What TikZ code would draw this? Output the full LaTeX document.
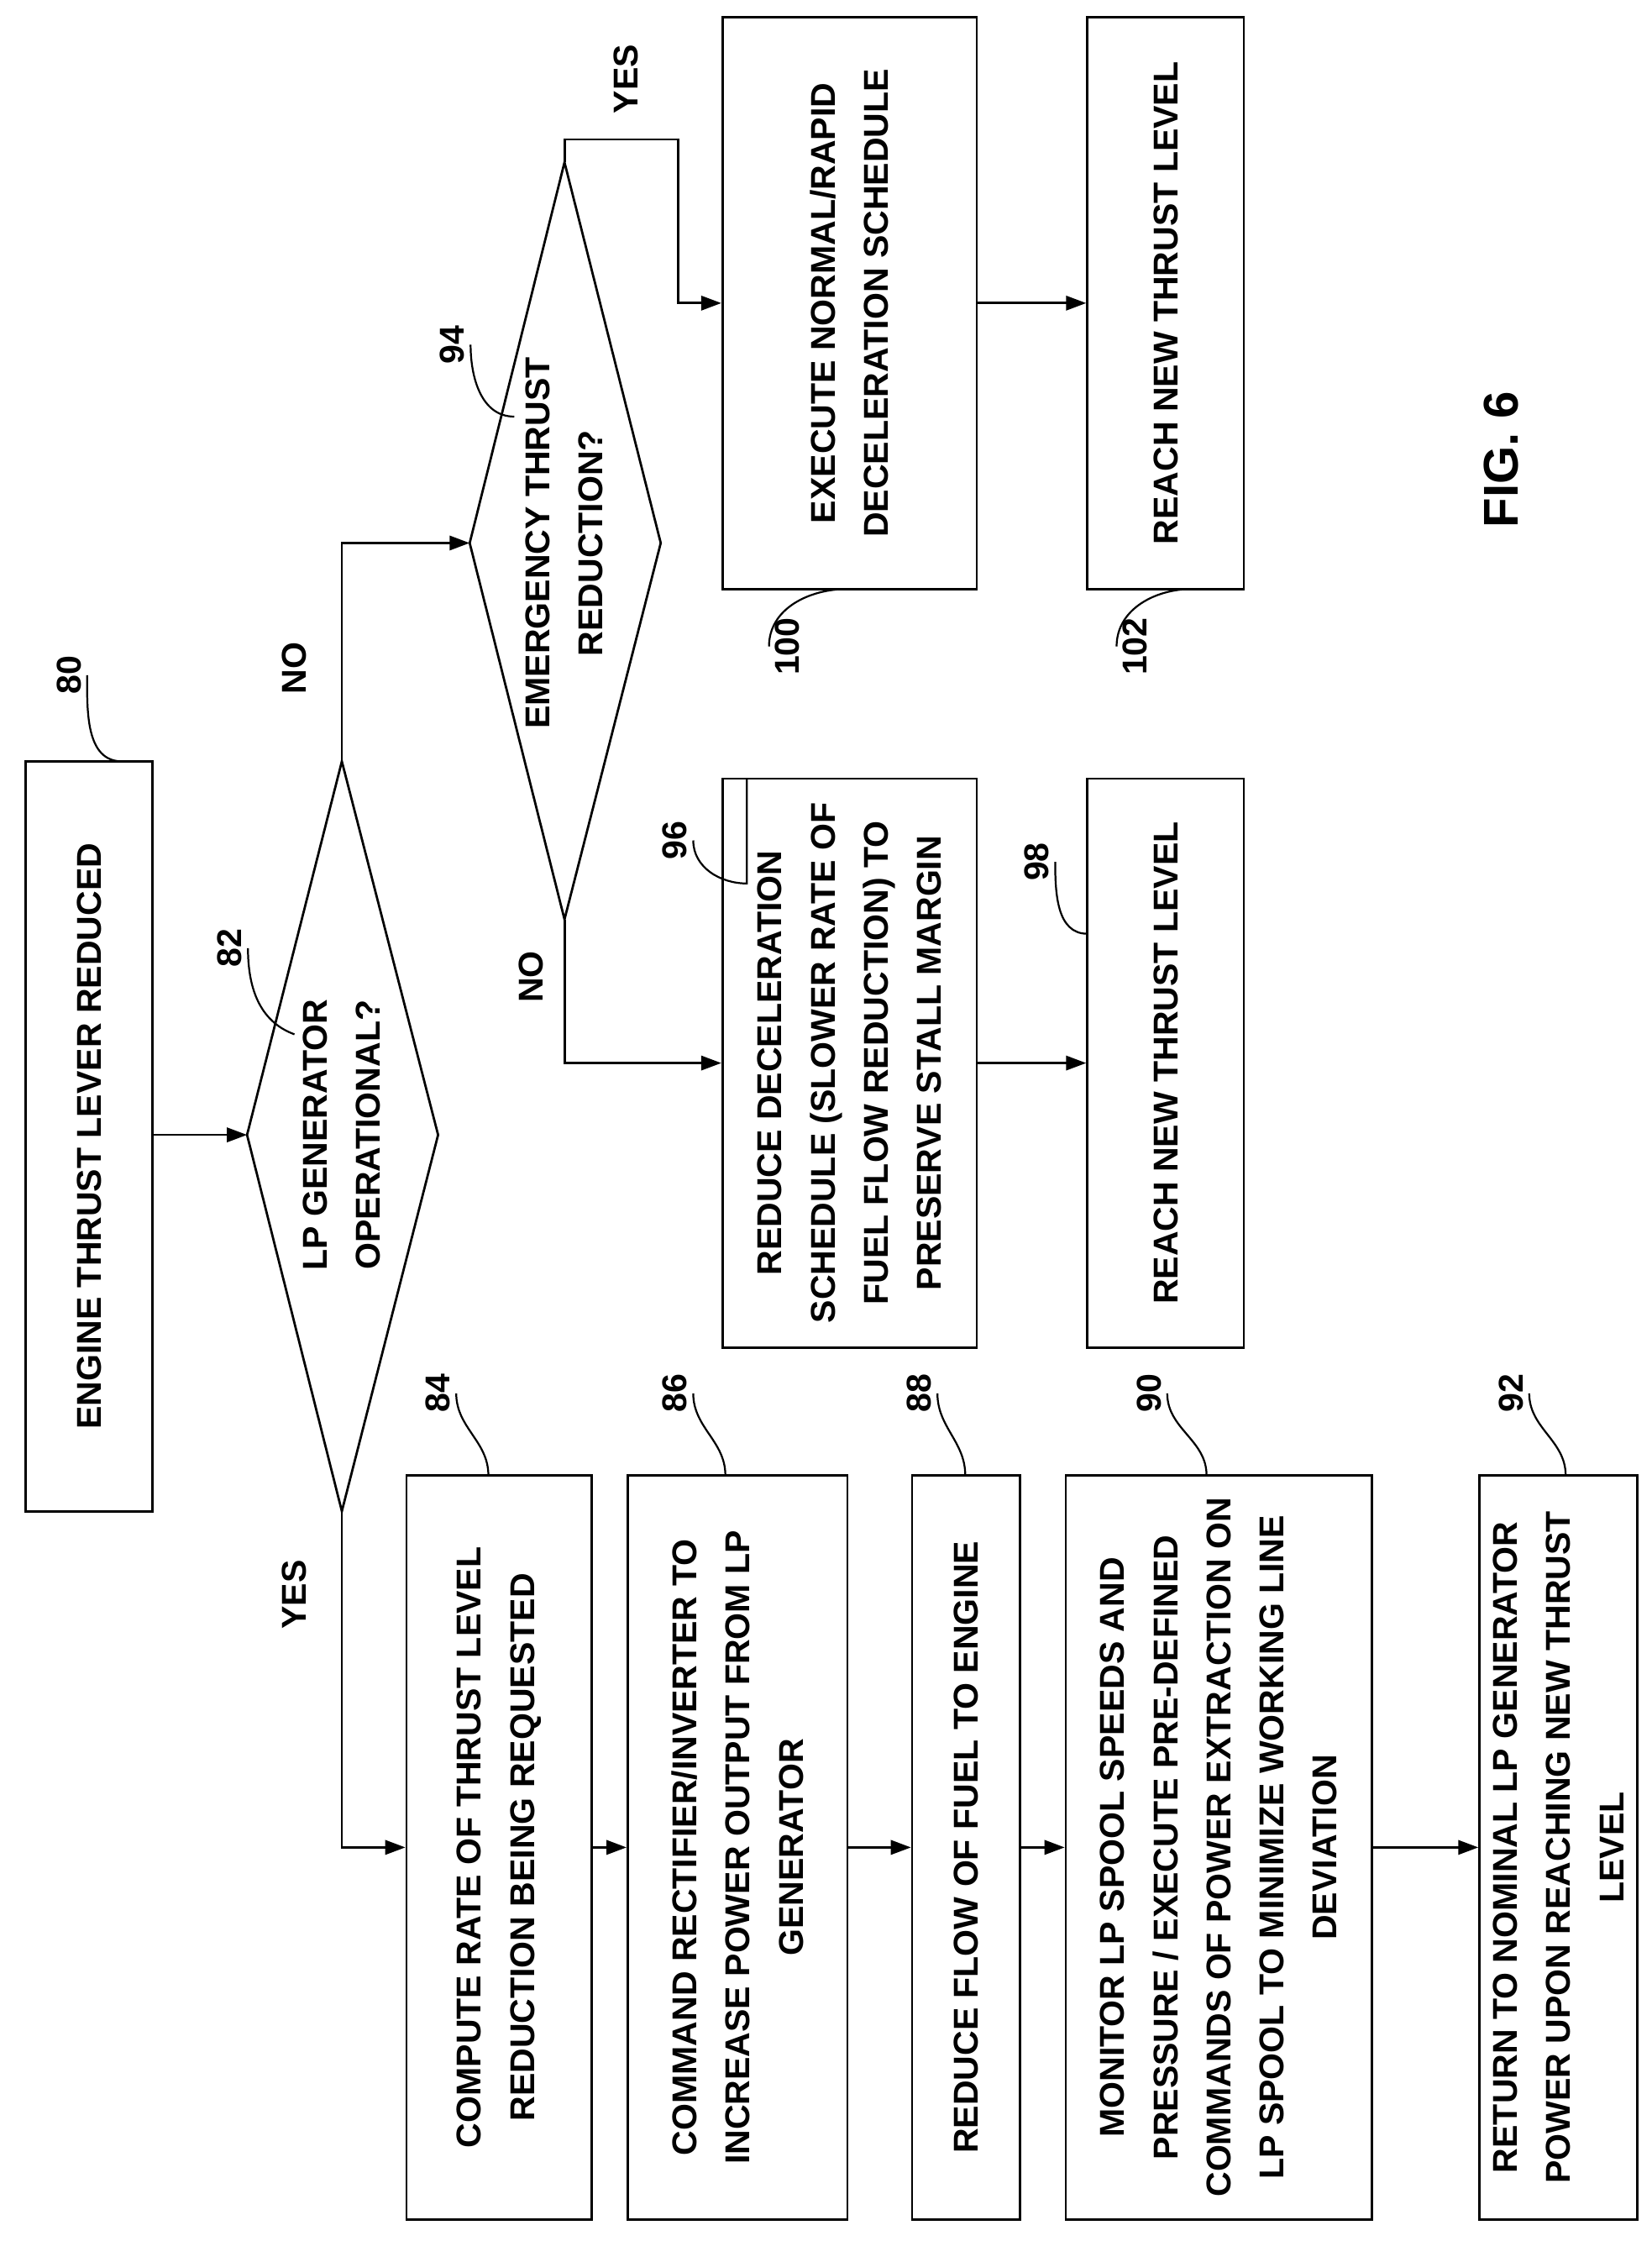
\documentclass[tikz,border=0pt]{standalone}
\usepackage{fontspec}
\setmainfont{Liberation Sans}
\usetikzlibrary{arrows.meta}
\begin{document}
\begin{tikzpicture}[x=1pt,y=-1pt,line width=1.6pt,
 box/.style={draw,rectangle,inner sep=0},
 txt/.style={rotate=90,align=center,font=\fontsize{24}{37}\selectfont\bfseries},
 lab/.style={rotate=90,font=\fontsize{24}{28}\selectfont\bfseries},
 arr/.style={-{Triangle[length=14pt,width=10pt]}},
 lead/.style={line width=1.3pt}]
\useasboundingbox (0,0) rectangle (1150,1560);
\newcommand{\bx}[6]{\node[box,minimum width=#4-#2,minimum height=#5-#3] (#1) at ({(#2+#4)/2},{(#3+#5)/2}) {};
 \node[txt] at (#1) {#6};}
\bx{n80}{18}{530}{106}{1052}{ENGINE THRUST LEVER REDUCED}
\bx{n100}{503}{12}{680}{410}{EXECUTE NORMAL/RAPID\\DECELERATION SCHEDULE}
\bx{n102}{757}{12}{866}{410}{REACH NEW THRUST LEVEL}
\bx{n96}{503}{542}{680}{938}{REDUCE DECELERATION\\SCHEDULE (SLOWER RATE OF\\FUEL FLOW REDUCTION) TO\\PRESERVE STALL MARGIN}
\bx{n98}{757}{542}{866}{938}{REACH NEW THRUST LEVEL}
\bx{n84}{283}{1027}{412}{1545}{COMPUTE RATE OF THRUST LEVEL\\REDUCTION BEING REQUESTED}
\bx{n86}{437}{1027}{590}{1545}{COMMAND RECTIFIER/INVERTER TO\\INCREASE POWER OUTPUT FROM LP\\GENERATOR}
\bx{n88}{635}{1027}{710}{1545}{REDUCE FLOW OF FUEL TO ENGINE}
\bx{n90}{742}{1027}{955}{1545}{MONITOR LP SPOOL SPEEDS AND\\PRESSURE / EXECUTE PRE-DEFINED\\COMMANDS OF POWER EXTRACTION ON\\LP SPOOL TO MINIMIZE WORKING LINE\\DEVIATION}
\bx{n92}{1030}{1027}{1140}{1545}{RETURN TO NOMINAL LP GENERATOR\\POWER UPON REACHING NEW THRUST\\LEVEL}
% diamonds
\coordinate (d82w) at (172,790); \coordinate (d82e) at (305,790);
\coordinate (d82n) at (238,530); \coordinate (d82s) at (238,1052);
\draw (d82w)--(d82n)--(d82e)--(d82s)--cycle;
\node[txt] (n82) at (238,790) {LP GENERATOR\\OPERATIONAL?};
\coordinate (d94w) at (327,378); \coordinate (d94e) at (460,378);
\coordinate (d94n) at (393,113); \coordinate (d94s) at (393,640);
\draw (d94w)--(d94n)--(d94e)--(d94s)--cycle;
\node[txt] (n94) at (393,378) {EMERGENCY THRUST\\REDUCTION?};
% connectors
\draw[arr] (n80.east|-d82w) -- (d82w);
\draw[arr] (d82s) |- (n84.west);
\draw[arr] (d82n) |- (d94w);
\draw[arr] (d94n) -- (393,97) -- (472,97) |- (n100.west);
\draw[arr] (d94s) |- (n96.west);
\draw[arr] (n100.east) -- (n102.west);
\draw[arr] (n96.east) -- (n98.west);
\draw[arr] (n84.east) -- (n86.west);
\draw[arr] (n86.east) -- (n88.west);
\draw[arr] (n88.east) -- (n90.west);
\draw[arr] (n90.east) -- (n92.west);
\node[lab] (yes1) at (205,1110) {YES};
\node[lab] (no1) at (205,465) {NO};
\node[lab] (yes2) at (436,55) {YES};
\node[lab] (no2) at (370,680) {NO};
\node[rotate=90,font=\fontsize{34}{40}\selectfont\bfseries] (fig) at (1045,320) {FIG. 6};
% reference labels
\newcommand{\rl}[5]{\node[lab] (#1) at (#2,#3) {#1}; \draw[lead] (#1.south) ++(0,0) to[out=0,in=-90] (#4,#5);}
\node[lab] (l80) at (48,470) {80}; \draw[lead] (l80.south) to[out=-90,in=180] (85,530);
\node[lab] (l82) at (160,660) {82}; \draw[lead] (l82.south) to[out=-90,in=160] (205,720);
\node[lab] (l94) at (315,240) {94}; \draw[lead] (l94.south) to[out=-90,in=180] (358,290);
\node[lab] (l96) at (470,585) {96}; \draw[lead] (l96.south) to[out=-90,in=180] (520,615) -- (520,542);
\node[lab] (l98) at (722,600) {98}; \draw[lead] (l98.south) to[out=-90,in=180] (757,650);
\node[lab] (l100) at (548,450) {100}; \draw[lead] (l100.north) to[out=90,in=180] (590,410);
\node[lab] (l102) at (790,450) {102}; \draw[lead] (l102.north) to[out=90,in=180] (830,410);
\node[lab] (l84) at (305,970) {84}; \draw[lead] (l84.south) to[out=-90,in=90] (340,1027);
\node[lab] (l86) at (470,970) {86}; \draw[lead] (l86.south) to[out=-90,in=90] (505,1027);
\node[lab] (l88) at (640,970) {88}; \draw[lead] (l88.south) to[out=-90,in=90] (672,1027);
\node[lab] (l90) at (800,970) {90}; \draw[lead] (l90.south) to[out=-90,in=90] (840,1027);
\node[lab] (l92) at (1052,970) {92}; \draw[lead] (l92.south) to[out=-90,in=90] (1090,1027);
\end{tikzpicture}
\end{document}
